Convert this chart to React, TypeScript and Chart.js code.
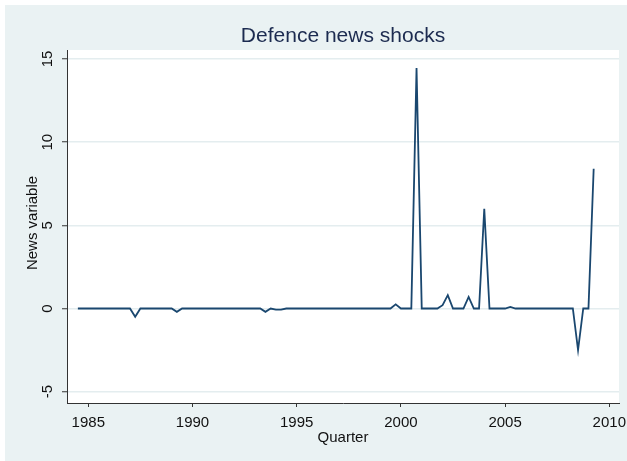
import React, { useEffect, useRef } from "react";
import { Chart, registerables } from "chart.js";

Chart.register(...registerables);

const titleText = "Defence news shocks";
const xAxisTitle = "Quarter";
const yAxisTitle = "News variable";

const startYear = 1984;
const startQuarter = 3;

// News variable, one value per quarter from 1984q3 to 2009q2
const newsValues = [
  0, 0, 0, 0, 0, 0, 0, 0, 0, 0,
  0, -0.5, 0, 0, 0, 0, 0, 0, 0, -0.2,
  0, 0, 0, 0, 0, 0, 0, 0, 0, 0,
  0, 0, 0, 0, 0, 0, -0.2, 0, -0.07, -0.07,
  0, 0, 0, 0, 0, 0, 0, 0, 0, 0,
  0, 0, 0, 0, 0, 0, 0, 0, 0, 0,
  0, 0.25, 0, 0, 0, 14.45, 0, 0, 0, 0,
  0.2, 0.8, 0, 0, 0, 0.7, 0, 0, 6.0, 0,
  0, 0, 0, 0.1, 0, 0, 0, 0, 0, 0,
  0, 0, 0, 0, 0, 0, -2.5, 0, 0, 8.4,
];

const quarters: string[] = newsValues.map((_, i) => {
  const q = startQuarter - 1 + i;
  return `${startYear + Math.floor(q / 4)}q${(q % 4) + 1}`;
});

const quarterToNumber = (s: string) => {
  const [y, q] = s.split("q");
  return Number(y) + (Number(q) - 1) / 4;
};

const xTickValues = [1985, 1990, 1995, 2000, 2005, 2010];
const xTickLabels = ["1985", "1990", "1995", "2000", "2005", "2010"];
const yTickValues = [-5, 0, 5, 10, 15];
const yTickLabels = ["-5", "0", "5", "10", "15"];

const FONT = '"Liberation Sans", Arial, sans-serif';
const BG = "#EAF2F3";
const AXIS = "#333333";
const TEXT = "#111111";
const LINE = "#1A476F";

const decorPlugin = {
  id: "decor",
  beforeDraw(chart: any) {
    const { ctx, chartArea, width, height } = chart;
    ctx.save();
    ctx.fillStyle = "#ffffff";
    ctx.fillRect(0, 0, width, height);
    ctx.fillStyle = BG;
    ctx.fillRect(5, 5, width - 5, height - 5);
    ctx.fillStyle = "#ffffff";
    ctx.fillRect(chartArea.left, chartArea.top, chartArea.right - chartArea.left, chartArea.bottom - chartArea.top);
    ctx.restore();
  },
  afterDraw(chart: any) {
    const { ctx, chartArea } = chart;
    const xs = chart.scales.x;
    const ys = chart.scales.y;
    const cx = (chartArea.left + chartArea.right) / 2;
    ctx.save();
    // title
    ctx.fillStyle = "#1C2B50";
    ctx.font = `21px ${FONT}`;
    ctx.textAlign = "center";
    ctx.textBaseline = "alphabetic";
    ctx.fillText(titleText, cx, 42);
    // x tick labels
    ctx.fillStyle = TEXT;
    ctx.font = `15px ${FONT}`;
    xTickValues.forEach((v, i) => {
      ctx.fillText(xTickLabels[i], xs.getPixelForValue(v), 426.5);
    });
    // x title
    ctx.fillText(xAxisTitle, cx, 441.5);
    // y tick labels (rotated)
    yTickValues.forEach((v, i) => {
      ctx.save();
      ctx.translate(51.7, ys.getPixelForValue(v));
      ctx.rotate(-Math.PI / 2);
      ctx.fillText(yTickLabels[i], 0, 0);
      ctx.restore();
    });
    // y title
    ctx.save();
    ctx.translate(36.5, 223);
    ctx.rotate(-Math.PI / 2);
    ctx.fillText(yAxisTitle, 0, 0);
    ctx.restore();
    ctx.restore();
  },
};

export default function App() {
  const canvasRef = useRef<HTMLCanvasElement | null>(null);

  useEffect(() => {
    if (!canvasRef.current) return;
    const chart = new Chart(canvasRef.current, {
      type: "line",
      data: {
        datasets: [
          {
            label: yAxisTitle,
            data: quarters.map((q, i) => ({ x: quarterToNumber(q), y: newsValues[i] })),
            borderColor: LINE,
            borderWidth: 1.8,
            pointRadius: 0,
            pointHoverRadius: 0,
            tension: 0,
            fill: false,
            borderJoinStyle: "miter",
          },
        ],
      },
      options: {
        animation: false,
        responsive: false,
        devicePixelRatio: 1,
        layout: { padding: { top: 50, right: 8, left: 0, bottom: 0 } },
        plugins: {
          legend: { display: false },
          title: { display: false },
          tooltip: { enabled: false },
        },
        scales: {
          x: {
            type: "linear",
            min: 1983.978,
            max: 2010.465,
            afterBuildTicks: (scale: any) => {
              scale.ticks = xTickValues.map((v) => ({ value: v }));
            },
            afterFit: (scale: any) => {
              scale.height = 58;
            },
            ticks: { display: false },
            grid: {
              display: true,
              drawOnChartArea: false,
              drawTicks: true,
              tickLength: 4,
              tickColor: AXIS,
              tickWidth: 1,
            },
            border: { display: true, color: AXIS, width: 1 },
          },
          y: {
            type: "linear",
            min: -5.68,
            max: 15.54,
            afterBuildTicks: (scale: any) => {
              scale.ticks = yTickValues.map((v) => ({ value: v }));
            },
            afterFit: (scale: any) => {
              scale.width = 67;
            },
            ticks: { display: false },
            grid: {
              display: true,
              drawOnChartArea: true,
              color: "#E4EDEF",
              lineWidth: 1.5,
              drawTicks: true,
              tickLength: 5,
              tickColor: AXIS,
              tickWidth: 1,
            },
            border: { display: true, color: AXIS, width: 1 },
          },
        },
      },
      plugins: [decorPlugin],
    } as any);
    return () => chart.destroy();
  }, []);

  return (
    <div style={{ position: "absolute", left: 0, top: 0, width: 627, height: 461 }}>
      <canvas ref={canvasRef} width={627} height={461} style={{ display: "block" }} />
    </div>
  );
}
